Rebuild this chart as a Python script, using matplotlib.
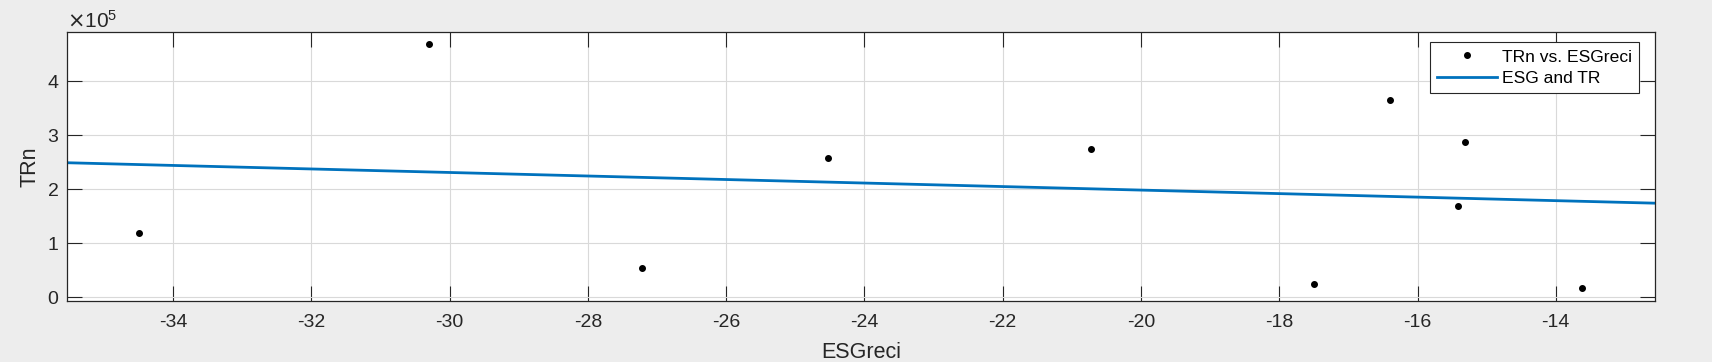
import numpy as np
import matplotlib.pyplot as plt
from matplotlib.ticker import ScalarFormatter

# data
esg = [-34.49, -30.30, -27.21, -24.52, -20.72, -17.50, -16.40, -15.31, -15.41, -13.62]
trn = [1.18e5, 4.70e5, 0.53e5, 2.57e5, 2.75e5, 0.235e5, 3.66e5, 2.88e5, 1.68e5, 0.16e5]

# fitted line end points
fit_x = [-35.53, -12.56]
fit_y = [2.49e5, 1.74e5]

plt.rcParams['font.family'] = ['Liberation Sans', 'DejaVu Sans']
plt.rcParams['axes.unicode_minus'] = False

fig = plt.figure(figsize=(17.12, 3.62), dpi=100, facecolor='#ededed')
ax = fig.add_axes([0.0393, 0.1685, 0.9276, 0.7439])
ax.set_facecolor('white')

ax.plot(esg, trn, 'o', color='black', markersize=4, label='TRn vs. ESGreci')
ax.plot(fit_x, fit_y, '-', color='#0072bd', linewidth=2.0, label='ESG and TR')

ax.set_xlim(-35.53, -12.56)
ax.set_ylim(-0.074e5, 4.92e5)
ax.set_xticks(np.arange(-34, -13, 2))
ax.set_yticks(np.arange(0, 5e5, 1e5))

fmt = ScalarFormatter(useMathText=True)
fmt.set_powerlimits((0, 0))
ax.yaxis.set_major_formatter(fmt)
ax.yaxis.get_offset_text().set_fontsize(15)
ax.yaxis.get_offset_text().set_color('#262626')

ax.grid(True, color='#d9d9d9', linewidth=0.8)
ax.set_axisbelow(True)
ax.tick_params(direction='in', length=11, width=0.8, top=True, right=True,
               labelsize=14, colors='#262626')
ax.tick_params(axis='x', pad=9.5)
ax.tick_params(axis='y', pad=6)
for s in ax.spines.values():
    s.set_color('#262626')
    s.set_linewidth(0.9)

ax.set_xlabel('ESGreci', fontsize=15.5, color='#262626', labelpad=7.5)
ax.set_ylabel('TRn', fontsize=15.5, color='#262626', labelpad=4.5)

leg = ax.legend(loc='upper right', fontsize=12.6, frameon=True, fancybox=False,
                edgecolor='#262626', framealpha=1, borderpad=0.4,
                handlelength=3.4, handletextpad=0.33, labelspacing=0.34,
                borderaxespad=0, bbox_to_anchor=(0.9899, 0.9606))
leg.get_frame().set_linewidth(0.8)

fig.savefig('out.png', dpi=100, facecolor=fig.get_facecolor())
